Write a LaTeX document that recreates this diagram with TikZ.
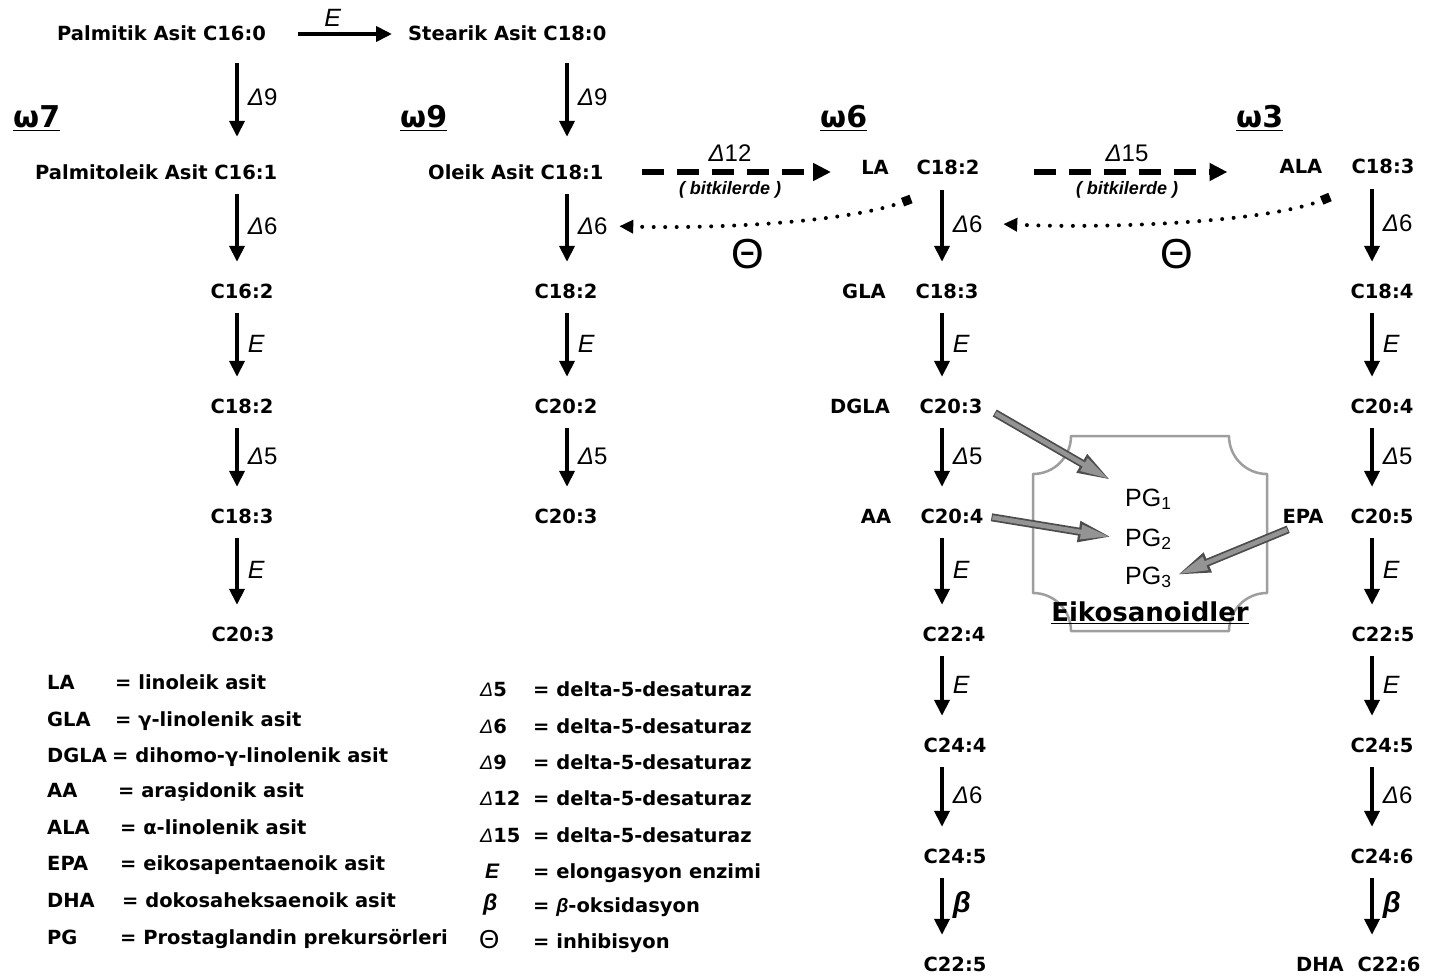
\documentclass[tikz,border=0pt]{standalone}
\usepackage{fontspec}
\setmainfont{DejaVu Sans}
\newfontfamily\djsans{DejaVu Sans}
\newfontfamily\libsans{Liberation Sans}
\usetikzlibrary{arrows.meta}
\newcommand\Dlt{{\libsans\mdseries\itshape Δ}}
\tikzset{
 lbl/.style={font=\djsans\bfseries\fontsize{19.5}{22}\selectfont, inner sep=0pt, text height=14pt, text depth=0pt},
 leg/.style={lbl, anchor=west},
 varr/.style={line width=3.8pt, -{Triangle[length=16pt,width=15pt]}, shorten <=15pt, shorten >=22pt},
 varrlong/.style={varr, shorten <=22pt, shorten >=28pt},
 harr/.style={line width=3.8pt, -{Triangle[length=16pt,width=15pt]}, shorten <=32pt, shorten >=16pt},
 dfont/.style={font=\libsans\fontsize{24}{26}\selectfont, inner sep=0pt},
 efont/.style={font=\libsans\itshape\fontsize{25}{27}\selectfont, inner sep=0pt},
 bfont/.style={font=\libsans\bfseries\itshape\fontsize{29}{31}\selectfont, inner sep=0pt},
 side/.style={pos=0.45, right=9pt},
 omg/.style={font=\djsans\bfseries\fontsize{30}{34}\selectfont, inner sep=0pt, anchor=base west},
 dasharr/.style={line width=5.5pt, dash pattern=on 22pt off 13pt, -{Triangle[length=18pt,width=17pt]}},
 dotarr/.style={line width=4pt, line cap=round, dash pattern=on 0pt off 11.5pt, {Square[length=9pt,width=9pt]}-{Triangle[length=14pt,width=13pt]}},
 garrout/.style={line width=8pt, draw=black!70, -{Triangle[length=34pt,width=19pt]}},
 garrin/.style={line width=4.5pt, draw=black!42, -{Triangle[length=29pt,width=13.5pt]}},
 thet/.style={font=\libsans\fontsize{42}{46}\selectfont, inner sep=0pt},
 bitk/.style={font=\libsans\bfseries\itshape\fontsize{18}{20}\selectfont, inner sep=0pt},
 pgf/.style={font=\libsans\fontsize{25}{28}\selectfont, inner sep=0pt, anchor=base west},
 eiko/.style={draw=black!38, line width=2.5pt, line join=round},
}
\begin{document}
\begin{tikzpicture}[x=1pt,y=-1pt]
\path[fill=white,use as bounding box] (0,0) rectangle (1435,979);

% column axes
\coordinate (X7) at (237,0);
\coordinate (X9) at (567,0);
\coordinate (X6) at (942,0);
\coordinate (X3) at (1372,0);

% omega headings
\node[omg] (om7) at (13,128) {\underline{ω7}};
\node[omg] (om9) at (400,128) {\underline{ω9}};
\node[omg] (om6) at (820,128) {\underline{ω6}};
\node[omg] (om3) at (1236,128) {\underline{ω3}};

% top rows
\node[lbl,anchor=west] (pal) at (57,34) {Palmitik Asit C16:0};
\node[lbl,anchor=west] (ste) at (408,34) {Stearik Asit C18:0};
\node[lbl,anchor=west] (pto) at (35,172) {Palmitoleik Asit C16:1};
\node[lbl,anchor=west] (ole) at (428,172) {Oleik Asit C18:1};

% omega 7
\node[lbl] (a2) at (242,291) {C16:2};
\node[lbl] (a3) at (242,406) {C18:2};
\node[lbl] (a4) at (242,516) {C18:3};
\node[lbl] (a5) at (243,634) {C20:3};
% omega 9
\node[lbl] (b2) at (566,291) {C18:2};
\node[lbl] (b3) at (566,406) {C20:2};
\node[lbl] (b4) at (566,516) {C20:3};
% omega 6
\node[lbl] (c1) at (948,168) {C18:2};
\node[lbl] (c2) at (947,291) {C18:3};
\node[lbl] (c3) at (951,406) {C20:3};
\node[lbl] (c4) at (952,516) {C20:4};
\node[lbl] (c5) at (954,634) {C22:4};
\node[lbl] (c6) at (955,745) {C24:4};
\node[lbl] (c7) at (955,856) {C24:5};
\node[lbl] (c8) at (955,964) {C22:5};
\node[lbl] (la) at (875,168) {LA};
\node[lbl] (gla) at (864,291) {GLA};
\node[lbl] (dgla) at (860,406) {DGLA};
\node[lbl] (aa) at (876,516) {AA};
% omega 3
\node[lbl] (d1) at (1383,167) {C18:3};
\node[lbl] (d2) at (1382,291) {C18:4};
\node[lbl] (d3) at (1382,406) {C20:4};
\node[lbl] (d4) at (1382,516) {C20:5};
\node[lbl] (d5) at (1383,634) {C22:5};
\node[lbl] (d6) at (1382,745) {C24:5};
\node[lbl] (d7) at (1382,856) {C24:6};
\node[lbl] (d8) at (1389,964) {C22:6};
\node[lbl] (ala) at (1301,167) {ALA};
\node[lbl] (epa) at (1303,516) {EPA};
\node[lbl] (dha) at (1320,964) {DHA};

% horizontal elongation
\draw[harr] (pal.east) -- (ste.west) node[efont, pos=0.47, above=6pt] (eTop) {E};

% omega 7 arrows
\draw[varrlong] (pal.south -| X7) -- (pto.north -| X7) node[dfont, side] {\Dlt9};
\draw[varr] (pto.south -| X7) -- (a2.north -| X7) node[dfont, side] {\Dlt6};
\draw[varr] (a2.south -| X7) -- (a3.north -| X7) node[efont, side] {E};
\draw[varr] (a3.south -| X7) -- (a4.north -| X7) node[dfont, side] {\Dlt5};
\draw[varr] (a4.south -| X7) -- (a5.north -| X7) node[efont, side] {E};
% omega 9 arrows
\draw[varrlong] (ste.south -| X9) -- (ole.north -| X9) node[dfont, side] {\Dlt9};
\draw[varr] (ole.south -| X9) -- (b2.north -| X9) node[dfont, side] (lab9b) {\Dlt6};
\draw[varr] (b2.south -| X9) -- (b3.north -| X9) node[efont, side] {E};
\draw[varr] (b3.south -| X9) -- (b4.north -| X9) node[dfont, side] {\Dlt5};
% omega 6 arrows
\draw[varr] (c1.south -| X6) -- (c2.north -| X6) node[dfont, side] (lab6b) {\Dlt6};
\draw[varr] (c2.south -| X6) -- (c3.north -| X6) node[efont, side] {E};
\draw[varr] (c3.south -| X6) -- (c4.north -| X6) node[dfont, side] {\Dlt5};
\draw[varr] (c4.south -| X6) -- (c5.north -| X6) node[efont, side] {E};
\draw[varr] (c5.south -| X6) -- (c6.north -| X6) node[efont, side] {E};
\draw[varr] (c6.south -| X6) -- (c7.north -| X6) node[dfont, side] {\Dlt6};
\draw[varr] (c7.south -| X6) -- (c8.north -| X6) node[bfont, side] {β};
% omega 3 arrows
\draw[varr] (d1.south -| X3) -- (d2.north -| X3) node[dfont, side] {\Dlt6};
\draw[varr] (d2.south -| X3) -- (d3.north -| X3) node[efont, side] {E};
\draw[varr] (d3.south -| X3) -- (d4.north -| X3) node[dfont, side] {\Dlt5};
\draw[varr] (d4.south -| X3) -- (d5.north -| X3) node[efont, side] {E};
\draw[varr] (d5.south -| X3) -- (d6.north -| X3) node[efont, side] {E};
\draw[varr] (d6.south -| X3) -- (d7.north -| X3) node[dfont, side] {\Dlt6};
\draw[varr] (d7.south -| X3) -- (d8.north -| X3) node[bfont, side] {β};

% plant desaturations (dashed)
\draw[dasharr, shorten <=38pt, shorten >=30pt] (ole.east) -- (ole.east -| la.west);
\node[dfont] (d12) at (730,153) {\Dlt12};
\node[bitk] (bit1) at (730,190) {( bitkilerde )};
\draw[dasharr, shorten <=54pt, shorten >=52pt] ([yshift=-4pt]c1.east) -- ([yshift=-4pt]c1.east -| ala.west);
\node[dfont] (d15) at (1127,153) {\Dlt15};
\node[bitk] (bit2) at (1127,190) {( bitkilerde )};

% inhibition (dotted)
\draw[dotarr] ([shift={(-37,31)}]c1.center) .. controls (850,222) and (720,229) .. ([xshift=10pt]lab9b.east);
\node[thet] (th1) at (748,254) {Θ};
\draw[dotarr] ([shift={(29,30)}]ala.center) .. controls (1270,222) and (1110,229) .. ([xshift=19pt]lab6b.east);
\node[thet] (th2) at (1177,254) {Θ};

% eikosanoid box
\draw[eiko] (1071,436) -- (1229,436) .. controls (1229,457) and (1246,474) .. (1267,474)
  -- (1267,593) .. controls (1246,593) and (1229,610) .. (1229,631)
  -- (1071,631) .. controls (1071,610) and (1054,593) .. (1033,593)
  -- (1033,474) .. controls (1054,474) and (1071,457) .. (1071,436) -- cycle;
\node[pgf] (pg1) at (1125,506) {PG\textsubscript{1}};
\node[pgf] (pg2) at (1125,546) {PG\textsubscript{2}};
\node[pgf] (pg3) at (1125,584) {PG\textsubscript{3}};
\node[font=\djsans\bfseries\fontsize{26}{30}\selectfont, inner sep=0pt, anchor=base] (eik) at (1150,621) {\underline{Eikosanoidler}};

% gray arrows to prostaglandins
\draw[garrout, shorten <=14pt, shorten >=16pt] (c3.east) -- (pg1.north west);
\draw[garrin, shorten <=15pt, shorten >=18.5pt] (c3.east) -- (pg1.north west);
\draw[garrout, shorten <=8pt, shorten >=13pt] (c4.east) -- (pg2.west);
\draw[garrin, shorten <=9pt, shorten >=15.5pt] (c4.east) -- (pg2.west);
\draw[garrout, shorten <=16pt, shorten >=5pt] (epa.south) -- (pg3.east);
\draw[garrin, shorten <=17pt, shorten >=7.5pt] (epa.south) -- (pg3.east);

% legend left
\node[leg] (kLA) at (47,682) {LA};
\node[leg] (vLA) at (115,682) {= linoleik asit};
\node[leg] (kGLA) at (47,719) {GLA};
\node[leg] (vGLA) at (115,719) {= γ-linolenik asit};
\node[leg] (kDGLA) at (47,755) {DGLA};
\node[leg] (vDGLA) at (112,755) {= dihomo-γ-linolenik asit};
\node[leg] (kAA) at (47,790) {AA};
\node[leg] (vAA) at (118,790) {= araşidonik asit};
\node[leg] (kALA) at (47,827) {ALA};
\node[leg] (vALA) at (120,827) {= α-linolenik asit};
\node[leg] (kEPA) at (47,863) {EPA};
\node[leg] (vEPA) at (120,863) {= eikosapentaenoik asit};
\node[leg] (kDHA) at (47,900) {DHA};
\node[leg] (vDHA) at (122,900) {= dokosaheksaenoik asit};
\node[leg] (kPG) at (47,937) {PG};
\node[leg] (vPG) at (120,937) {= Prostaglandin prekursörleri};

% legend right
\node[leg] (s5) at (480,689) {\Dlt5};
\node[leg] (t5) at (533,689) {= delta-5-desaturaz};
\node[leg] (s6) at (480,726) {\Dlt6};
\node[leg] (t6) at (533,726) {= delta-5-desaturaz};
\node[leg] (s9) at (480,762) {\Dlt9};
\node[leg] (t9) at (533,762) {= delta-5-desaturaz};
\node[leg] (s12) at (480,798) {\Dlt12};
\node[leg] (t12) at (533,798) {= delta-5-desaturaz};
\node[leg] (s15) at (480,835) {\Dlt15};
\node[leg] (t15) at (533,835) {= delta-5-desaturaz};
\node[font=\libsans\bfseries\itshape\fontsize{21}{24}\selectfont, inner sep=0pt, anchor=west] (sE) at (485,871) {E};
\node[leg] (tE) at (533,871) {= elongasyon enzimi};
\node[font=\libsans\bfseries\itshape\fontsize{23}{26}\selectfont, inner sep=0pt, anchor=west] (sB) at (483,905) {β};
\node[leg] (tB) at (533,905) {= {\libsans\itshape β}-oksidasyon};
\node[font=\libsans\fontsize{26}{28}\selectfont, inner sep=0pt, anchor=west] (sT) at (479,940) {Θ};
\node[leg] (tT) at (533,941) {= inhibisyon};
\end{tikzpicture}
\end{document}
